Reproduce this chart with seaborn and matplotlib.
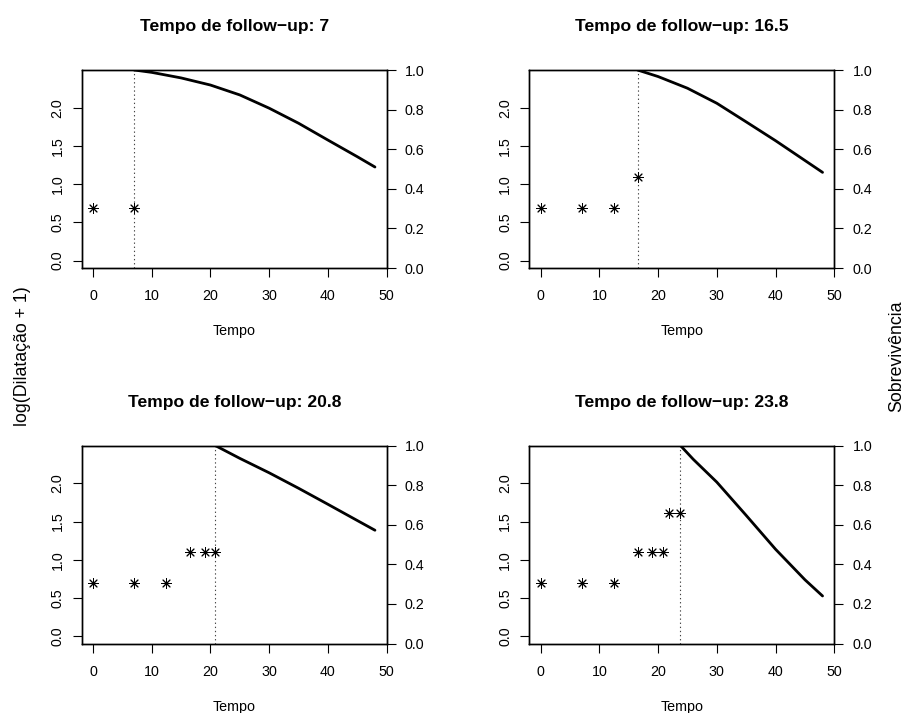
import matplotlib
matplotlib.use("Agg")
import matplotlib.pyplot as plt
import seaborn as sns
import pandas as pd

# ---- data ----
followup = [7, 16.5, 20.8, 23.8]
obs_time = [0, 7, 12.5, 16.5, 19, 20.8, 21.9, 23.8]
obs_logdil = [0.69, 0.69, 0.69, 1.10, 1.10, 1.10, 1.61, 1.61]

surv_time_1 = [7, 10, 15, 20, 25, 30, 35, 40, 45, 48]
surv_val_1 = [1.0, 0.988, 0.96, 0.924, 0.874, 0.807, 0.731, 0.646, 0.562, 0.51]
surv_time_2 = [16.5, 20, 25, 30, 35, 40, 45, 48]
surv_val_2 = [1.0, 0.967, 0.908, 0.832, 0.738, 0.643, 0.543, 0.483]
surv_time_3 = [20.8, 25, 30, 35, 40, 45, 48]
surv_val_3 = [1.0, 0.935, 0.862, 0.784, 0.703, 0.621, 0.572]
surv_time_4 = [23.8, 26, 30, 35, 40, 45, 48]
surv_val_4 = [1.0, 0.93, 0.815, 0.647, 0.476, 0.322, 0.24]

surv_times = [surv_time_1, surv_time_2, surv_time_3, surv_time_4]
surv_vals = [surv_val_1, surv_val_2, surv_val_3, surv_val_4]

x_ticks = [0, 10, 20, 30, 40, 50]
y_ticks = [0.0, 0.5, 1.0, 1.5, 2.0]
y2_ticks = [0.0, 0.2, 0.4, 0.6, 0.8, 1.0]

title_fmt = "Tempo de follow\u2212up: {}"
xlabel = "Tempo"
ylabel_left = "log(Dilata\u00e7\u00e3o + 1)"
ylabel_right = "Sobreviv\u00eancia"

# ---- style ----
sns.set_style("ticks")
plt.rcParams["font.family"] = ["Liberation Sans", "DejaVu Sans"]
plt.rcParams["axes.linewidth"] = 1.0
for k in ["text.color", "axes.labelcolor", "xtick.color", "ytick.color",
          "axes.edgecolor"]:
    plt.rcParams[k] = "black"

W, H = 904, 713
fig = plt.figure(figsize=(W / 100, H / 100), dpi=100)

panel_w = 305 / W
panel_h = 198 / H
lefts = [81.7 / W, 529.3 / W]
bottoms = [1 - 268 / H, 1 - 643.5 / H]
title_y = [26.7, 402.3]
xlab_y = [331, 706.7]

TICK_FS = 10.3
TITLE_FS = 12.6

for i, fu in enumerate(followup):
    r, c = divmod(i, 2)
    ax = fig.add_axes([lefts[c], bottoms[r], panel_w, panel_h])
    ax2 = ax.twinx()

    df = pd.DataFrame({"t": obs_time, "y": obs_logdil})
    df = df[df["t"] <= fu + 1e-9]
    sns.scatterplot(data=df, x="t", y="y", ax=ax, marker=(8, 2, 0), s=50,
                    color="black", linewidth=0.7, zorder=3)
    ax.axvline(fu, color="#444444", lw=0.8, ls=(0, (1.2, 2.5)), zorder=1)

    dfs = pd.DataFrame({"t": surv_times[i], "s": surv_vals[i]})
    sns.lineplot(data=dfs, x="t", y="s", ax=ax2, color="black", lw=2.0,
                 estimator=None, sort=False)

    ax.set_xlim(-1.92, 49.92)
    ax.set_ylim(-0.096, 2.496)
    ax2.set_ylim(0, 1)
    ax.set_xticks(x_ticks)
    ax.set_xticklabels([str(v) for v in x_ticks])
    ax.set_yticks(y_ticks)
    ax.set_yticklabels([f"{v:.1f}" for v in y_ticks], rotation=90, va="center")
    ax2.set_yticks(y2_ticks)
    ax2.set_yticklabels([f"{v:.1f}" for v in y2_ticks])
    ax.set_xlabel("")
    ax.set_ylabel("")
    ax2.set_xlabel("")
    ax2.set_ylabel("")

    ax.tick_params(axis="x", length=6.8, width=0.8, pad=8.5, labelsize=TICK_FS)
    ax.tick_params(axis="y", length=6.8, width=0.8, pad=5.5, labelsize=TICK_FS)
    ax2.tick_params(axis="y", length=6.8, width=0.8, pad=6.3, labelsize=TICK_FS)
    for sp in list(ax.spines.values()) + list(ax2.spines.values()):
        sp.set_visible(True)
        sp.set_color("black")
        sp.set_linewidth(1.0)

    cx = lefts[c] + panel_w / 2
    fig.text(cx, 1 - title_y[r] / H, title_fmt.format(fu), ha="center",
             va="center", fontsize=TITLE_FS, fontweight="bold")
    fig.text(cx, 1 - xlab_y[r] / H, xlabel, ha="center", va="center",
             fontsize=TICK_FS)

fig.text(23 / W, 0.5, ylabel_left, rotation=90, ha="center", va="center",
         fontsize=12.8)
fig.text(896.7 / W, 0.5, ylabel_right, rotation=90, ha="center", va="center",
         fontsize=12.8)

fig.savefig("out.png", dpi=100)
